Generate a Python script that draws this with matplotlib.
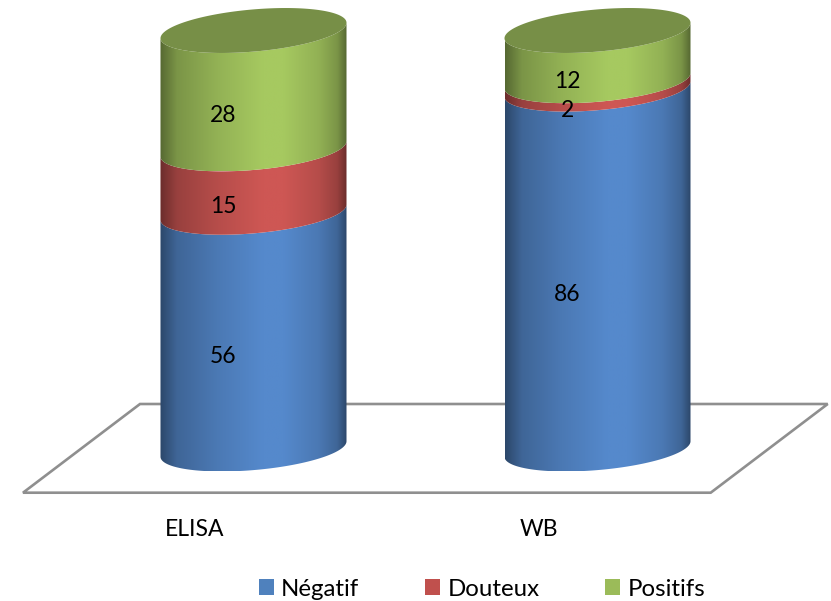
import numpy as np
import matplotlib
matplotlib.use("Agg")
import matplotlib.pyplot as plt
from matplotlib.colors import LinearSegmentedColormap
from matplotlib.patches import Patch, Polygon
from matplotlib.transforms import Affine2D

# Results per assay, in stacking order from the base upward
categories = ["ELISA", "WB"]
series_names = ["Négatif", "Douteux", "Positifs"]
negatif = [56, 86]
douteux = [15, 2]
positifs = [28, 12]

swatch_colors = ["#4F81BD", "#C0504D", "#9BBB59"]
bright_colors = ["#5589CC", "#CE5754", "#A6C960"]
cap_color = "#778F47"
floor_color = "#8F8F8F"
font = "Lato"
legend_size = 17.3

W, H = 831, 601
fig = plt.figure(figsize=(W / 100, H / 100), dpi=100, facecolor="white")
ax = fig.add_axes([0, 0, 1, 1])
ax.axis("off")

# Axis scales: one category step and one percent expressed in pixels
px_per_cat = 344.0
px_per_pct = 4.185
x_origin_px, y_base_px = 253.5, 449.0
xlim = (-x_origin_px / px_per_cat, (W - x_origin_px) / px_per_cat)
ylim = (-(H - y_base_px) / px_per_pct, y_base_px / px_per_pct)

# Cylinder geometry, tilted slightly by a vertical shear
half_w = 93.0 / px_per_cat
minor = 21.1 / px_per_pct
shear = 7.75 / px_per_pct

t_front = np.linspace(np.pi, 0, 160)


def front_arc(cx, level):
    """Lower edge of a tilted ring, running from left to right."""
    x = cx + half_w * np.cos(t_front)
    y = level + shear * np.cos(t_front) - minor * np.sin(t_front)
    return x, y


def shaded_segment(cx, low, high, bright):
    """Horizontally shaded cylinder slice between two stack levels."""
    rgb = matplotlib.colors.to_rgb(bright)
    dark = tuple(0.52 * c for c in rgb)
    mid = tuple(0.74 * c for c in rgb)
    soft = tuple(0.88 * c for c in rgb)
    cmap = LinearSegmentedColormap.from_list(
        "shade",
        [(0, dark), (0.09, mid), (0.3, soft), (0.55, bright),
         (0.66, bright), (0.85, soft), (0.95, mid), (1, dark)],
    )
    xl, yl = front_arc(cx, low)
    xh, yh = front_arc(cx, high)
    verts = np.column_stack([np.r_[xl, xh[::-1]], np.r_[yl, yh[::-1]]])
    clip = Polygon(verts, closed=True, transform=ax.transData,
                   facecolor="none", edgecolor="none")
    ax.add_patch(clip)
    img = ax.imshow(
        np.linspace(0, 1, 256)[None, :], cmap=cmap, aspect="auto",
        extent=(cx - half_w, cx + half_w, verts[:, 1].min(), verts[:, 1].max()),
        zorder=3, interpolation="bilinear",
    )
    img.set_clip_path(clip)


# Floor of the 3D plot, laid out in pixels from the top-left corner
px = Affine2D().scale(1, -1).translate(0, H)
floor_pts = [(23, 492.7), (140, 404), (827.7, 404), (710.7, 492.7)]
ax.add_patch(Polygon(floor_pts, closed=True, facecolor="white",
                     edgecolor=floor_color, linewidth=1.9, transform=px, zorder=1))

stack = np.array([negatif, douteux, positifs], dtype=float)
totals = stack.sum(axis=0)
shares = 100 * stack / totals
tops = np.cumsum(shares, axis=0)

for i, cat in enumerate(categories):
    low = 0.0
    for s in range(len(series_names)):
        high = tops[s, i]
        shaded_segment(i, low, high, bright_colors[s])
        ax.annotate(
            str(int(stack[s, i])), xy=(i, (low + high) / 2),
            xytext=(-30 * 0.72, -25.5 * 0.72), textcoords="offset points",
            ha="center", va="center", fontsize=16.5, family=font,
            color="black", zorder=6,
        )
        low = high

    # Top cap of the cylinder
    t = np.linspace(0, 2 * np.pi, 240)
    cap_x = i + half_w * np.cos(t)
    cap_y = 100 + shear * np.cos(t) - minor * np.sin(t)
    ax.add_patch(Polygon(np.column_stack([cap_x, cap_y]), closed=True,
                         facecolor=cap_color, edgecolor="none", zorder=4))

    # Category name sits in front of the floor, left of the cylinder
    ax.annotate(cat, xy=(i, 0), xytext=(-59 * 0.72, -80.5 * 0.72),
                textcoords="offset points", ha="center", va="center",
                fontsize=16.5, family=font, color="black", zorder=6)

ax.set_xlim(xlim)
ax.set_ylim(ylim)

handles = [Patch(facecolor=c, edgecolor="none") for c in swatch_colors]
fig.legend(
    handles, series_names, ncol=3, loc="upper left",
    bbox_to_anchor=(259.0 / W, 1 - 578.5 / H), frameon=False, borderpad=0,
    borderaxespad=0, prop={"family": font, "size": legend_size},
    handlelength=15 * 0.72 / legend_size, handleheight=15 * 0.72 / legend_size,
    handletextpad=7 * 0.72 / legend_size, columnspacing=66 * 0.72 / legend_size,
)

fig.savefig("out.png", dpi=100, facecolor="white")
